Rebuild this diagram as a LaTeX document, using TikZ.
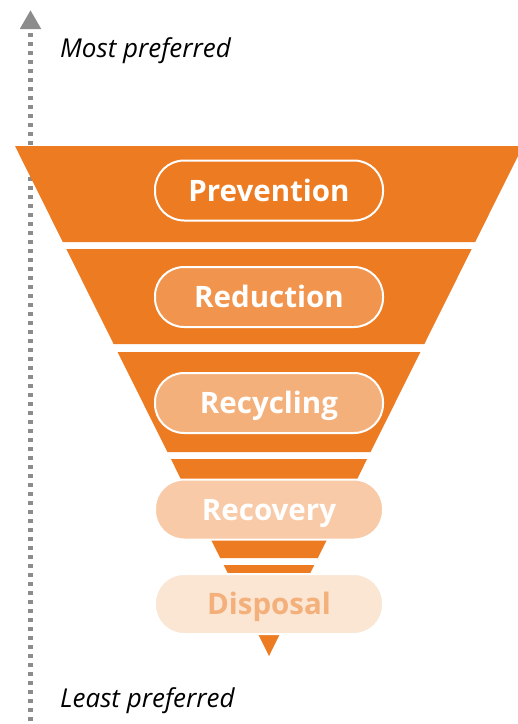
\documentclass[tikz,border=0pt]{standalone}
\usepackage{fontspec}
\setmainfont{Open Sans}
\usetikzlibrary{arrows.meta}
\definecolor{funnelorange}{RGB}{237,123,34}
\definecolor{axisgray}{RGB}{140,140,140}
\tikzset{
  band/.style={fill=funnelorange},
  pill/.style={draw=white, line width=2pt, rounded corners=29pt,
    minimum width=228pt, minimum height=60pt, inner sep=0pt,
    text height=21pt, text depth=0pt,
    font=\fontsize{29.5}{29.5}\selectfont\bfseries, text=white},
  axisline/.style={draw=axisgray, line width=5.5pt, dash pattern=on 4.5pt off 4.5pt,
    -{Triangle[width=20pt,length=19pt]}},
  axislabel/.style={anchor=base west, inner sep=0pt,
    font=\fontsize{26}{26}\selectfont\itshape, text=black},
}
\begin{document}
\begin{tikzpicture}[x=1pt,y=-1pt]
  \clip (0,0) rectangle (518,724);
  \fill[white] (0,0) rectangle (518,724);

  % preference axis, behind the funnel
  \coordinate (axisbot) at (30.5,730);
  \coordinate (axistop) at (30.5,10);
  \draw[axisline] (axisbot) -- (axistop);
  \node[axislabel] (most) at (60,57) {Most preferred};
  \node[axislabel] (least) at (60,707) {Least preferred};

  % funnel bands: half width shrinks linearly towards the apex
  \foreach \ya/\yb in {146/242,249/344,352/452,459/558} {
    \pgfmathsetmacro\wa{(656-\ya)*0.498}
    \pgfmathsetmacro\wb{(656-\yb)*0.498}
    \fill[band] (269-\wa,\ya) -- (269+\wa,\ya) -- (269+\wb,\yb) -- (269-\wb,\yb) -- cycle;
  }
  \pgfmathsetmacro\wa{(656-565)*0.498}
  \fill[band] (269-\wa,565) -- (269+\wa,565) -- (269,656) -- cycle;

  % hierarchy levels
  \node[pill, fill=funnelorange] (prevention) at (269,190.5) {Prevention};
  \node[pill, fill=funnelorange!80!white] (reduction) at (269,297) {Reduction};
  \node[pill, fill=funnelorange!60!white] (recycling) at (269,403) {Recycling};
  \node[pill, fill=funnelorange!40!white] (recovery) at (269,509.5) {Recovery};
  \node[pill, fill=funnelorange!20!white, text=funnelorange!60!white] (disposal) at (269,604) {Disposal};
\end{tikzpicture}
\end{document}
